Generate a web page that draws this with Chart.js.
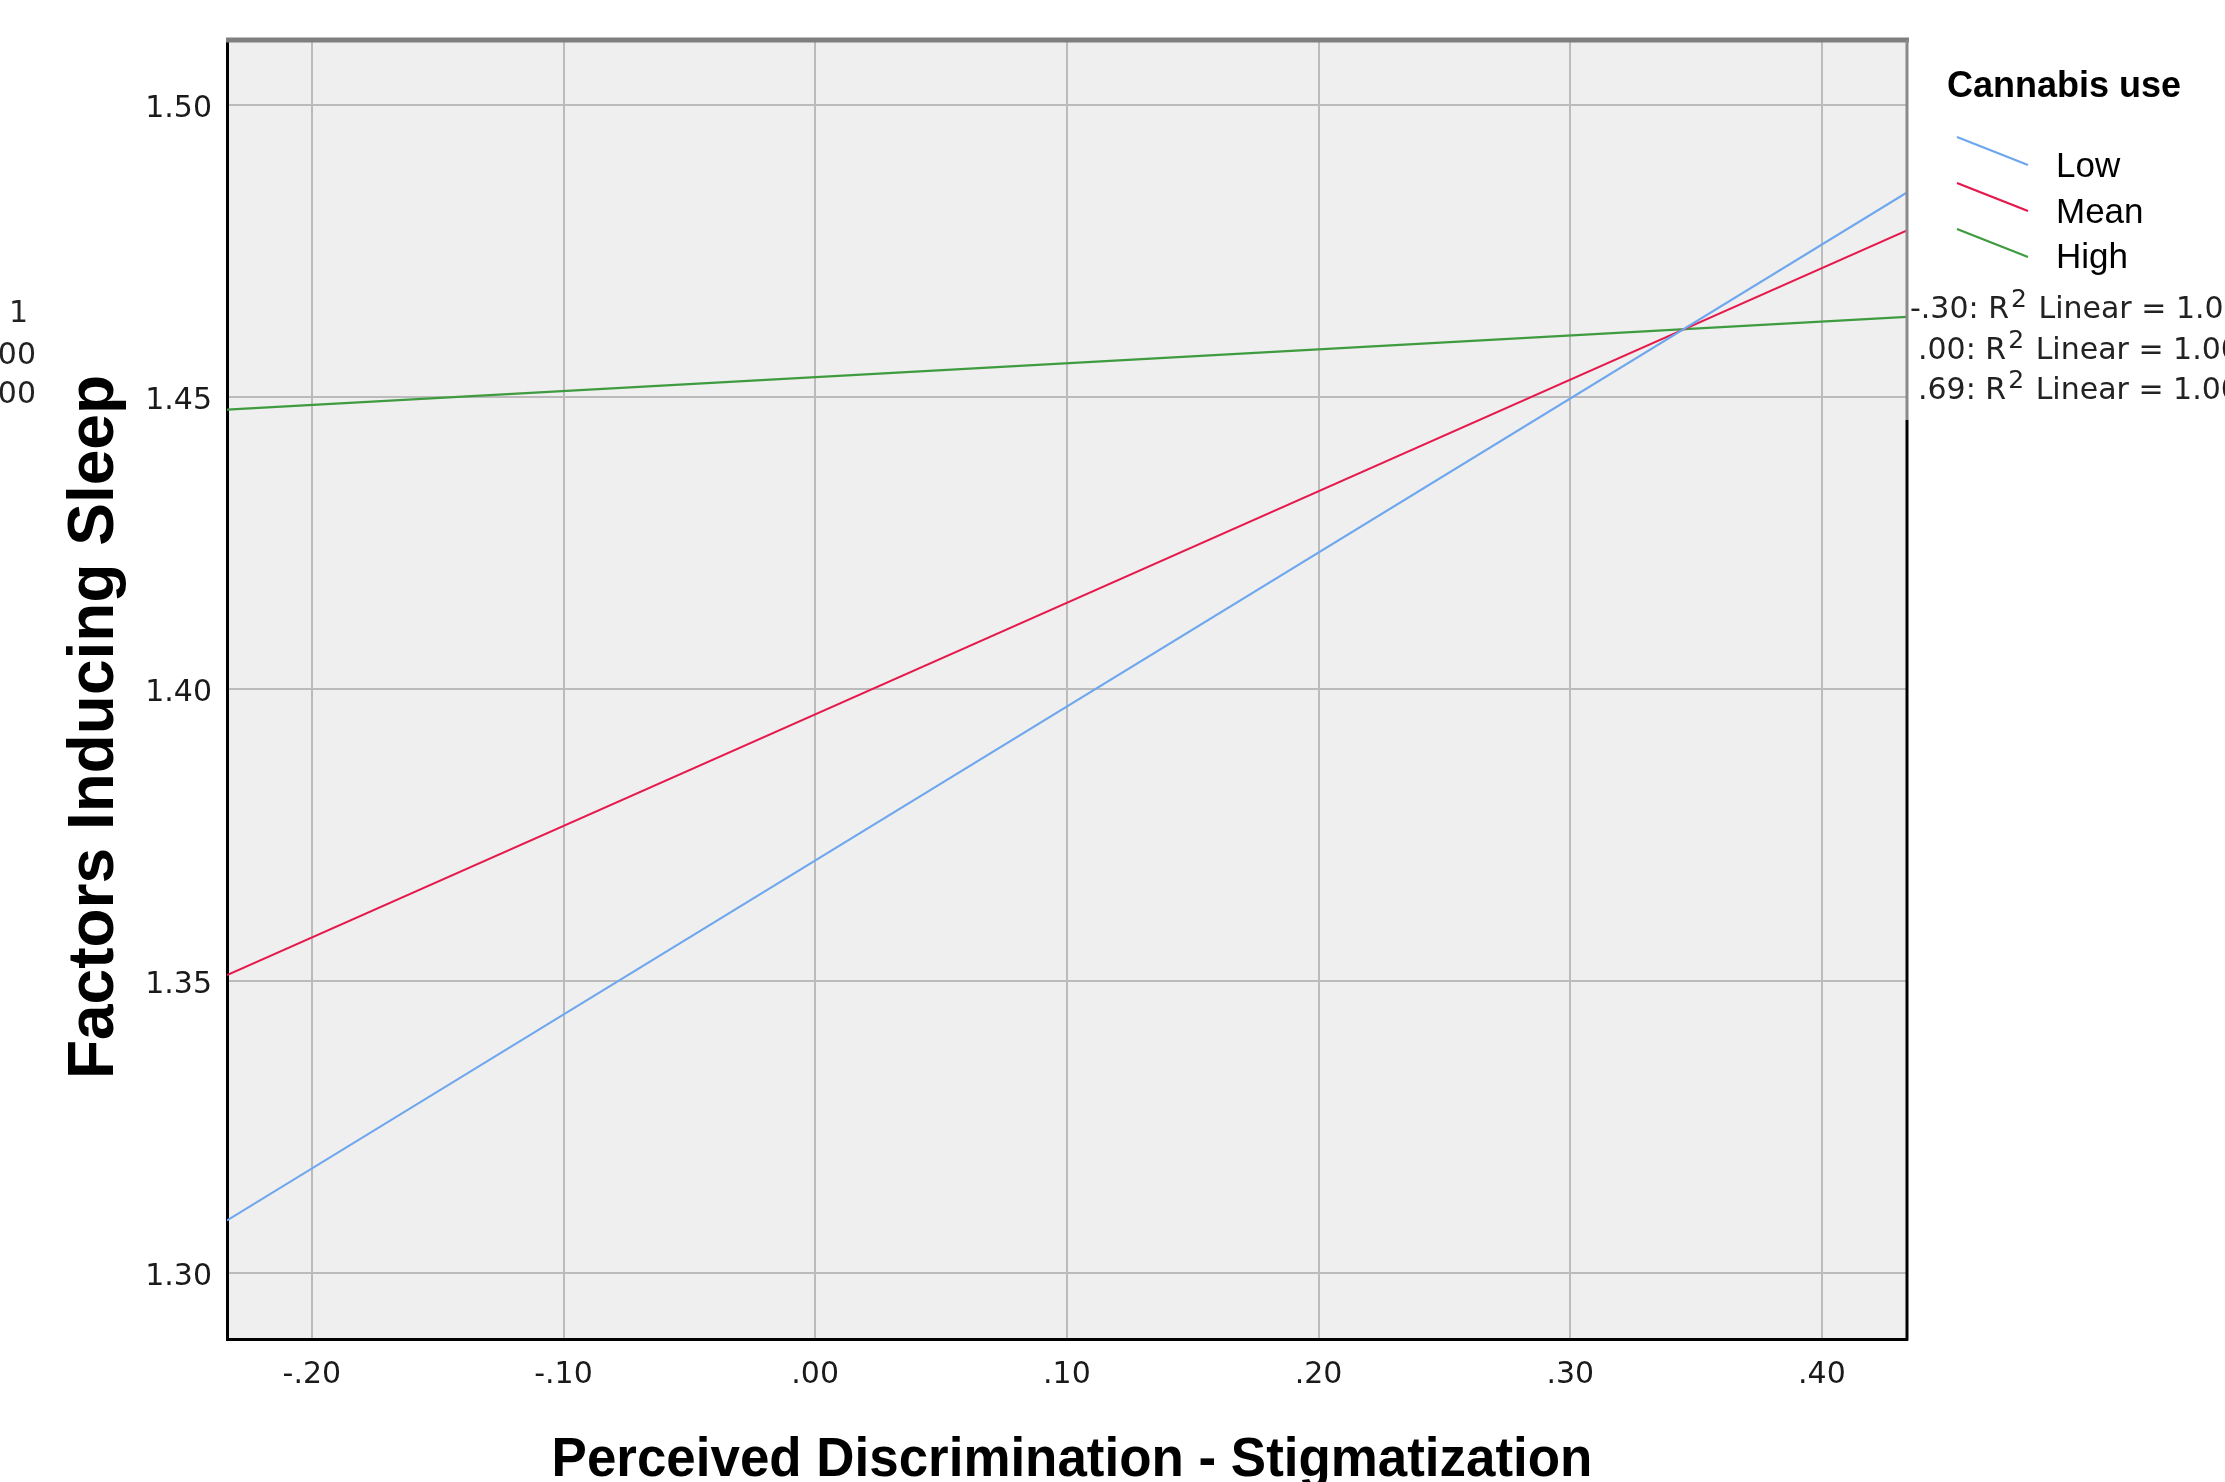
<!DOCTYPE html>
<html><head><meta charset="utf-8">
<script src="https://cdn.jsdelivr.net/npm/chart.js@4.4.1/dist/chart.umd.min.js"></script>
<style>html,body{margin:0;padding:0;background:#fff;overflow:hidden}canvas{display:block}</style>
</head><body>
<canvas id="c" width="2225" height="1482" style="width:2225px;height:1482px"></canvas>
<script>
// ---- data ----
const xEnds = [-0.2337, 0.4338];
const seriesNames = ['Low', 'Mean', 'High'];
const lowValues = [1.309, 1.485];
const meanValues = [1.351, 1.4785];
const highValues = [1.4478, 1.4637];
const xTickValues = [-0.2, -0.1, 0, 0.1, 0.2, 0.3, 0.4];
const xTickLabels = ['-.20', '-.10', '.00', '.10', '.20', '.30', '.40'];
const yTickValues = [1.30, 1.35, 1.40, 1.45, 1.50];
const yTickLabels = ['1.30', '1.35', '1.40', '1.45', '1.50'];
const r2Groups = ['-.30', '.00', '.69'];
const r2Values = ['1.000', '1.000', '1.000'];
const leftFragments = ['1', '00', '00'];
const legendTitle = 'Cannabis use';
const xTitle = 'Perceived Discrimination - Stigmatization';
const yTitle = 'Factors Inducing Sleep';

const seriesValues = [lowValues, meanValues, highValues];
const colors = ['#6ea7ee', '#e5194c', '#3f9b3f'];

const deco = {
  id: 'deco',
  beforeDraw(chart) {
    const {ctx, chartArea: a} = chart;
    ctx.save();
    ctx.fillStyle = '#efefef';
    ctx.fillRect(a.left, a.top, a.right - a.left, a.bottom - a.top);
    ctx.restore();
  },
  afterDraw(chart) {
    const {ctx, chartArea: a} = chart;
    ctx.save();
    const seg = (x1, y1, x2, y2) => { ctx.beginPath(); ctx.moveTo(x1, y1); ctx.lineTo(x2, y2); ctx.stroke(); };
    // top border
    ctx.strokeStyle = '#7f7f7f'; ctx.lineWidth = 5;
    seg(a.left - 1, a.top, a.right + 2, a.top);
    // right border
    ctx.lineWidth = 3;
    ctx.strokeStyle = '#8a8a8a';
    seg(a.right, a.top, a.right, 420);
    ctx.strokeStyle = '#000';
    seg(a.right, 420, a.right, a.bottom + 1.5);

    // legend
    ctx.fillStyle = '#000';
    ctx.textBaseline = 'alphabetic';
    ctx.textAlign = 'left';
    ctx.font = 'bold 36px "Liberation Sans", Arial, sans-serif';
    ctx.fillText(legendTitle, 1947, 97);
    ctx.font = '35px "Liberation Sans", Arial, sans-serif';
    seriesNames.forEach((n, i) => {
      ctx.strokeStyle = colors[i]; ctx.lineWidth = 2.4;
      seg(1957, 137 + 46 * i, 2028, 165 + 46 * i);
      ctx.fillText(n, 2056, 177 + 45.5 * i);
    });

    // R2 labels
    ctx.fillStyle = '#222';
    const r2x = [1910, 1918, 1918];
    const r2y = [318, 359, 399];
    r2Groups.forEach((g, i) => {
      let x = r2x[i];
      ctx.font = '30px "DejaVu Sans", sans-serif';
      const t1 = g + ': R';
      ctx.fillText(t1, x, r2y[i]);
      x += ctx.measureText(t1).width;
      ctx.font = '25px "DejaVu Sans", sans-serif';
      ctx.fillText('2', x + 2, r2y[i] - 11);
      x += ctx.measureText('2').width + 4;
      ctx.font = '30px "DejaVu Sans", sans-serif';
      ctx.fillText(' Linear = ' + r2Values[i], x, r2y[i]);
    });

    // left clipped fragments
    ctx.textAlign = 'right';
    ctx.font = '30px "DejaVu Sans", sans-serif';
    const fx = [28, 36, 36], fy = [322, 364, 403];
    leftFragments.forEach((f, i) => ctx.fillText(f, fx[i], fy[i]));

    // axis titles
    ctx.fillStyle = '#000';
    ctx.textAlign = 'center';
    ctx.font = 'bold 55px "Liberation Sans", Arial, sans-serif';
    ctx.save();
    ctx.translate(1072, 1476);
    ctx.scale(0.962, 1);
    ctx.fillText(xTitle, 0, 0);
    ctx.restore();

    ctx.font = 'bold 64px "Liberation Sans", Arial, sans-serif';
    ctx.save();
    ctx.translate(113, 727);
    ctx.rotate(-Math.PI / 2);
    ctx.fillText(yTitle, 0, 0);
    ctx.restore();

    ctx.restore();
  }
};

new Chart(document.getElementById('c'), {
  type: 'line',
  data: {
    datasets: seriesNames.map((n, i) => ({
      label: n,
      data: xEnds.map((x, j) => ({x: x, y: seriesValues[i][j]})),
      borderColor: colors[i],
      borderWidth: 2.2,
      pointRadius: 0,
      fill: false,
      tension: 0
    }))
  },
  options: {
    responsive: false,
    animation: false,
    devicePixelRatio: 1,
    layout: {padding: {top: 40, right: 318, left: 0, bottom: 0}},
    plugins: {legend: {display: false}, tooltip: {enabled: false}},
    scales: {
      x: {
        type: 'linear', min: xEnds[0], max: xEnds[1],
        afterBuildTicks(s) { s.ticks = xTickValues.map(v => ({value: v})); },
        afterFit(s) { s.height = 143; },
        ticks: {
          callback: (v, i) => xTickLabels[i],
          font: {family: '"DejaVu Sans"', size: 30}, color: '#1a1a1a',
          padding: 18, maxRotation: 0, autoSkip: false
        },
        grid: {color: '#bbbbbb', lineWidth: 2, drawTicks: false},
        border: {display: true, color: '#000', width: 3}
      },
      y: {
        type: 'linear', min: 1.2887, max: 1.5111,
        afterBuildTicks(s) { s.ticks = yTickValues.map(v => ({value: v})); },
        afterFit(s) { s.width = 227; },
        ticks: {
          callback: (v, i) => yTickLabels[i],
          font: {family: '"DejaVu Sans"', size: 30}, color: '#1a1a1a',
          padding: 15, autoSkip: false, labelOffset: 4
        },
        grid: {color: '#bbbbbb', lineWidth: 2, drawTicks: false},
        border: {display: true, color: '#000', width: 3}
      }
    }
  },
  plugins: [deco]
});
</script>
</body></html>
